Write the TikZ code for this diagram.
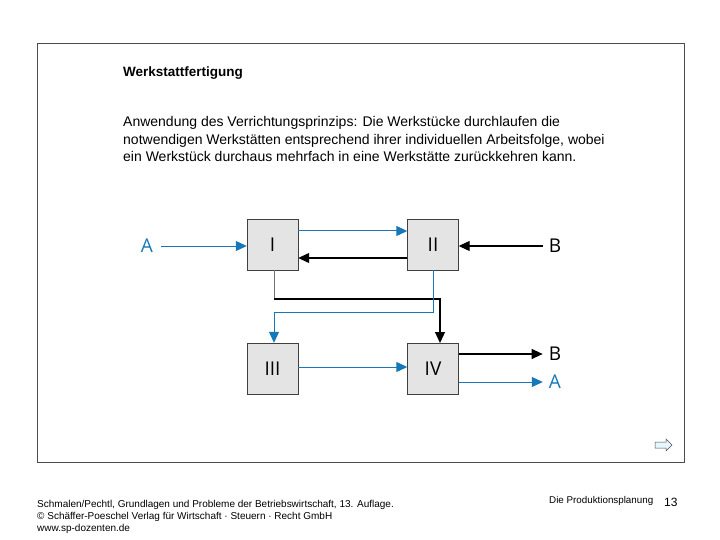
\documentclass[tikz,border=0pt]{standalone}
\usepackage{fontspec}
\setmainfont{Liberation Sans}
\newfontfamily\diafont{Open Sans}
\usetikzlibrary{arrows.meta}
\definecolor{flowblue}{RGB}{22,120,184}
\definecolor{boxgray}{RGB}{228,228,228}
\tikzset{
  werk/.style={draw=black!75,fill=boxgray,minimum width=51pt,minimum height=51pt,
    inner sep=0pt,font=\diafont\fontsize{19}{19}\selectfont},
  flowa/.style={draw=flowblue,line width=1pt,-{Triangle[length=11pt,width=10pt]}},
  flowb/.style={draw=black,line width=1.2pt,-{Triangle[length=11pt,width=10pt]}},
  ende/.style={font=\diafont\fontsize{19}{19}\selectfont,inner sep=0pt}
}
\begin{document}
\begin{tikzpicture}[x=1pt,y=-1pt]
  \useasboundingbox (0,0) rectangle (720,540);
  \draw[black!70,line width=0.6pt] (37,43) rectangle (684,462);
  \node[anchor=base west,inner sep=0pt,font=\bfseries\fontsize{13.5}{14}\selectfont] (titel) at (123,77) {Werkstattfertigung};
  \node[anchor=base west,inner sep=0pt,align=left,font=\fontsize{14}{17.5}\selectfont] (text) at (123,162)
    {Anwendung des Verrichtungsprinzips: Die Werkstücke durchlaufen die\\
     notwendigen Werkstätten entsprechend ihrer individuellen Arbeitsfolge, wobei\\
     ein Werkstück durchaus mehrfach in eine Werkstätte zurückkehren kann.};
  % Werkstaetten
  \def \Boxes{
    wI/I/272.5/244.5,
    wII/II/433/244.5,
    wIII/III/272.5/368.5,
    wIV/IV/433/368.5}
  \foreach \id / \lab / \x / \y in \Boxes{
    \node[werk] (\id) at (\x, \y) {\lab};
  }
  % Ein- und Ausgaenge
  \node[ende,text=flowblue] (ain) at (147,246) {A};
  \node[ende] (bin) at (555,246) {B};
  \node[ende] (bout) at (555,354) {B};
  \node[ende,text=flowblue] (aout) at (555,382) {A};
  \coordinate (ks) at (274,299);
  \coordinate (kb) at (274,312);
  \path[flowa] (ain.east) ++(8,0) -- (wI.west |- ain);
  \path[flowb] (bin.west) ++(-6,0) -- (wII.east |- bin);
  \path[flowa] (wI.east |- 0,231) -- (wII.west |- 0,231);
  \path[flowb] (wII.west |- 0,258) -- (wI.east |- 0,258);
  \draw[black!55,line width=1pt] (wI.south -| ks) -- (ks);
  \path[flowb] (ks) -| (440,343);
  \path[flowa] (wII.south) |- (kb) -- (wIII.north -| kb);
  \path[flowa] (wIII.east |- 0,367) -- (wIV.west |- 0,367);
  \path[flowb] (wIV.east |- bout) -- ([xshift=-6pt]bout.west);
  \path[flowa] (wIV.east |- aout) -- ([xshift=-6pt]aout.west);
  % Fusszeile
  \node[anchor=base west,inner sep=0pt,align=left,font=\fontsize{10}{12}\selectfont] (quelle) at (37,531)
    {Schmalen/Pechtl, Grundlagen und Probleme der Betriebswirtschaft, 13. Auflage.\\
     © Schäffer-Poeschel Verlag für Wirtschaft · Steuern · Recht GmbH\\
     www.sp-dozenten.de};
  \node[anchor=base west,inner sep=0pt,font=\fontsize{9.8}{12}\selectfont] (kapitel) at (549,503) {Die Produktionsplanung};
  \node[anchor=base west,inner sep=0pt,font=\fontsize{12}{12}\selectfont] (seite) at (664,506) {13};
  \draw[black!70,fill=cyan!10,line width=0.5pt] (655,442) -- (666,442) -- (666,439) -- (672,445)
    -- (666,451) -- (666,448) -- (655,448) -- cycle;
\end{tikzpicture}
\end{document}
